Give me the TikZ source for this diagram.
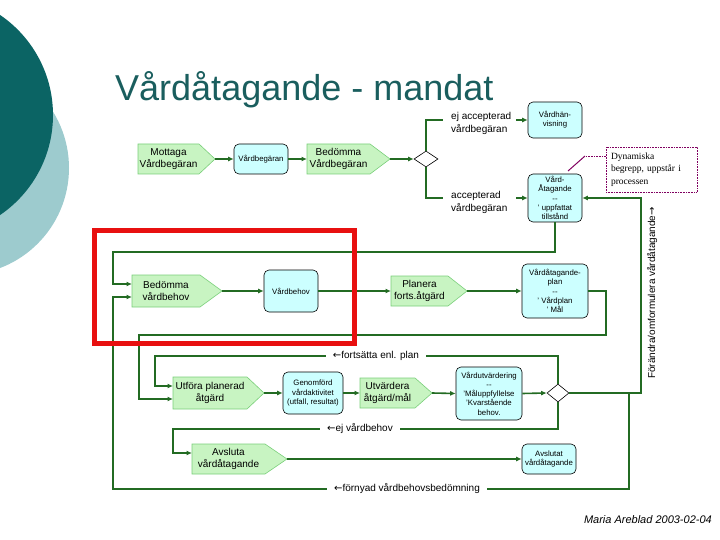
\documentclass[tikz,border=0pt]{standalone}
\usepackage{fontspec}
\setmainfont{Liberation Sans}
\newfontfamily\serifnote{Liberation Serif}
\newfontfamily\arrowfont{DejaVu Sans}
\usetikzlibrary{arrows.meta,shapes.geometric,calc}
\definecolor{lineg}{HTML}{236B23}
\definecolor{pentfill}{HTML}{C8F4C2}
\definecolor{pentline}{HTML}{7ACF7A}
\definecolor{boxfill}{HTML}{CCFFFF}
\definecolor{tealD}{HTML}{0B6464}
\definecolor{tealL}{HTML}{9DCBCE}
\definecolor{titlec}{HTML}{1A5E5E}
\definecolor{redc}{HTML}{E81010}
\definecolor{notec}{HTML}{800060}
\tikzset{
  flow/.style={draw=lineg, line width=1.6pt},
  flowa/.style={flow, -{Latex[length=5.5pt,width=5pt]}},
  cbox/.style={draw=black, fill=boxfill, rounded corners=5pt, line width=0.6pt, align=center,
    font=\fontsize{7.8}{9.3}\selectfont, inner sep=1pt},
  pentdraw/.style={draw=pentline, fill=pentfill, line width=0.6pt},
  penttext/.style={align=center, font=\fontsize{10}{11.5}\selectfont, inner sep=0pt},
  dia/.style={diamond, draw=black, fill=white, line width=0.6pt, inner sep=0pt},
  lab/.style={font=\fontsize{10}{12.5}\selectfont, inner sep=0pt},
  flab/.style={font=\fontsize{10}{12}\selectfont, inner sep=7pt, fill=white},
}
\newcommand\pent[7]{%
  \draw[pentdraw] (#2,#3) -- ++(#4-#6,0) -- ++(#6,#5/2) -- ++(-#6,#5/2) -- ++(#6-#4,0) -- cycle;
  \node[penttext] (#1) at (#2+#4/2-#6/2, #3+#5/2) {#7};
  \coordinate (#1-tip) at (#2+#4,#3+#5/2);
  \coordinate (#1-w) at (#2,#3+#5/2);
}
\begin{document}
\begin{tikzpicture}[x=1pt,y=-1pt]
\useasboundingbox (0,0) rectangle (720,540);
% background decoration
\fill[tealL] (-38,168) circle (107pt);
\fill[tealD] (-68,115) circle (121pt);
% title
\node[anchor=base west, font=\fontsize{36}{36}\selectfont, text=titlec, inner sep=0pt] (title) at (115,101) {Vårdåtagande - mandat};

% ---------- row 1
\pent{mv}{138}{144}{77}{30}{16}{Mottaga\\Vårdbegäran}
\node[cbox, minimum width=54pt, minimum height=30pt] (vb) at (261,159) {Vårdbegäran};
\pent{bv}{307}{144}{83}{30}{20}{Bedömma\\Vårdbegäran}
\node[dia, minimum width=24pt, minimum height=16pt] (d1) at (426,159) {};
\draw[flowa] (mv-tip) -- (vb.west);
\draw[flowa] (vb.east) -- (bv-w);
\draw[flowa] (bv-tip) -- (d1.west);

\coordinate (ej1) at (443,120);
\coordinate (ej2) at (516,120);
\node[lab, anchor=west, align=left] (labej) at (451,123.5) {ej accepterad\\vårdbegäran};
\node[cbox, minimum width=54pt, minimum height=36pt] (vh) at (555,120) {Vårdhän-\\visning};
\draw[flow] (d1.north) |- (ej1);
\draw[flowa] (ej2) -- (vh.west);

\coordinate (ac1) at (443,198);
\coordinate (ac2) at (516,198);
\node[lab, anchor=west, align=left] (labac) at (451,202.5) {accepterad\\vårdbegäran};
\node[cbox, minimum width=54pt, minimum height=48pt] (va) at (555,198) {Vård-\\Åtagande\\-{}-\\' uppfattat\\tillstånd};
\draw[flow] (d1.south) |- (ac1);
\draw[flowa] (ac2) -- (va.west);

% note
\node[draw=notec, densely dotted, line width=0.6pt, align=left, text width=81pt, inner sep=5pt,
  minimum height=45pt, font=\serifnote\fontsize{9.5}{12.5}\selectfont] (note) at (651.5,169.5)
  {Dynamiska\\begrepp, uppstår i\\processen};
\coordinate (cn) at (585,156);
\coordinate (cn2) at (568,171);
\draw[notec, densely dotted, line width=0.6pt] (note.west |- cn) -- (cn);
\draw[notec, line width=1pt] (cn) -- (cn2);

% ---------- row 2
\pent{bvb}{132}{275}{90}{32}{22}{Bedömma\\vårdbehov}
\node[cbox, minimum width=54pt, minimum height=42pt] (vbh) at (291,291) {Vårdbehov};
\pent{pf}{391}{276}{76}{30}{19}{Planera\\forts.åtgärd}
\node[cbox, minimum width=66pt, minimum height=54pt] (vap) at (555,291) {Vårdåtagande-\\plan\\-{}-\\' Vårdplan\\' Mål};
\draw[flowa] (bvb-tip) -- (vbh.west);
\draw[flowa] (vbh.east) -- (pf-w);
\draw[flowa] (pf-tip) -- (vap.west);

\coordinate (l1) at (113,252);
\coordinate (bvbin1) at (132,284);
\coordinate (bvbin2) at (132,297);
\draw[flowa] (va.south) |- (l1) |- (bvbin1);

% ---------- row 3
\pent{uf}{173}{377}{91}{32}{17}{Utföra planerad\\åtgärd}
\node[cbox, minimum width=60pt, minimum height=42pt] (gf) at (313,393) {Genomförd\\vårdaktivitet\\(utfall, resultat)};
\pent{ua}{360}{378}{72}{30}{17}{Utvärdera\\åtgärd/mål}
\node[cbox, minimum width=66pt, minimum height=53pt] (vu) at (489,393.5) {Vårdutvärdering\\-{}-\\'Måluppfyllelse\\'Kvarstående\\behov.};
\node[dia, minimum width=22pt, minimum height=18pt] (d2) at (558,393) {};
\draw[flowa] (uf-tip) -- (gf.west);
\draw[flowa] (gf.east) -- (ua-w);
\draw[flowa] (ua-tip) -- (vu.west);
\draw[flowa] (vu.east) -- (d2.west);

\coordinate (r2a) at (606,335);
\coordinate (r2b) at (139,335);
\coordinate (ufin1) at (173,386);
\coordinate (ufin2) at (173,399);
\draw[flowa] (vap.east) -| (r2a) -- (r2b) |- (ufin2);

\node[flab] (fort) at (376,356) {{\arrowfont ←}fortsätta enl. plan};
\coordinate (l3) at (155,356);
\draw[flow] (d2.north) |- (fort.east);
\draw[flowa] (fort.west) -- (l3) |- (ufin1);

% right vertical loop
\coordinate (rv) at (641,393);
\draw[flowa] (d2.east) -- (rv) |- (va.east);
\node[rotate=90, font=\fontsize{10}{10}\selectfont, inner sep=0pt] (fo) at (652,293) {Förändra/omformulera vårdåtagande{\arrowfont →}};

% ---------- row 4
\pent{av}{192}{444}{95}{30}{22}{Avsluta\\vårdåtagande}
\node[cbox, minimum width=54pt, minimum height=30pt] (avd) at (549,459) {Avslutat\\vårdåtagande};
\draw[flowa] (av-tip) -- (avd.west);

\node[flab] (ejv) at (360,429) {{\arrowfont ←}ej vårdbehov};
\coordinate (l5) at (173,429);
\coordinate (avin) at (192,453);
\draw[flow] (d2.south) |- (ejv.east);
\draw[flowa] (ejv.west) -- (l5) |- (avin);

\coordinate (f1) at (629,393);
\coordinate (l4) at (113,489);
\node[flab] (forn) at (407,489) {{\arrowfont ←}förnyad vårdbehovsbedömning};
\draw[flow] (f1) |- (forn.east);
\draw[flowa] (forn.west) -- (l4) |- (bvbin2);

% red highlight
\draw[redc, line width=5pt] (94.5,230.5) rectangle (354.5,343.5);

% footer
\node[anchor=base east, font=\itshape\fontsize{11}{11}\selectfont, inner sep=0pt] (foot) at (712,523) {Maria Areblad 2003-02-04};
\end{tikzpicture}
\end{document}
